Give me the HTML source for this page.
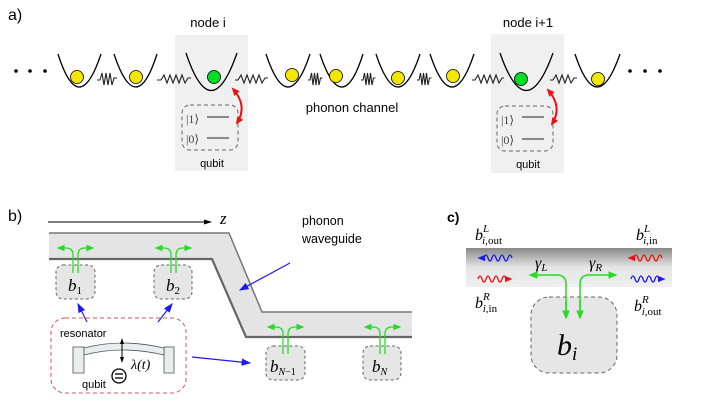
<!DOCTYPE html>
<html><head><meta charset="utf-8"><style>
body{margin:0;background:#fff}
svg{display:block}
.s{font-family:"Liberation Sans",sans-serif}
.m{font-family:"Liberation Serif",serif;font-style:italic}
.r{font-family:"Liberation Serif",serif}
</style></head><body>
<svg width="706" height="417" viewBox="0 0 706 417" xmlns="http://www.w3.org/2000/svg">
<defs>
<marker id="ag" markerWidth="6" markerHeight="6" refX="5" refY="3" orient="auto"><path d="M0,0.5 L6,3 L0,5.5z" fill="#22dd22"/></marker>
<marker id="ab" markerWidth="8" markerHeight="8" refX="7" refY="4" orient="auto"><path d="M0,1 L8,4 L0,7z" fill="#1a1aee"/></marker>
<marker id="ar" markerUnits="userSpaceOnUse" markerWidth="8" markerHeight="8" refX="6" refY="4" orient="auto-start-reverse"><path d="M0,0.5 L8,4 L0,7.5z" fill="#ee1111"/></marker>
<marker id="ak" markerWidth="8" markerHeight="8" refX="7" refY="4" orient="auto"><path d="M0,1.5 L8,4 L0,6.5z" fill="#000"/></marker>
<marker id="ak2" markerWidth="6" markerHeight="6" refX="3" refY="3" orient="auto-start-reverse"><path d="M0,1 L6,3 L0,5z" fill="#000"/></marker>
<marker id="bl" markerWidth="6" markerHeight="6" refX="4" refY="3" orient="auto"><path d="M0,0.5 L6,3 L0,5.5z" fill="#1a1aee"/></marker>
<marker id="rd" markerWidth="6" markerHeight="6" refX="4" refY="3" orient="auto"><path d="M0,0.5 L6,3 L0,5.5z" fill="#ee1111"/></marker>
<linearGradient id="gb" x1="0" y1="0" x2="0" y2="1"><stop offset="0" stop-color="#888"/><stop offset="0.5" stop-color="#e6e6e6"/><stop offset="1" stop-color="#eee"/></linearGradient>
</defs>
<!-- a -->
<text x="8" y="20" class="s" font-size="16">a)</text>
<rect x="175" y="35" width="73" height="136" fill="#f0f0f0"/>
<rect x="491" y="34" width="73" height="139" fill="#f0f0f0"/>
<text x="208" y="27" class="s" font-size="13" text-anchor="middle">node i</text>
<text x="528" y="27" class="s" font-size="13" text-anchor="middle">node i+1</text>
<g fill="#000"><circle cx="16" cy="71" r="1.8"/><circle cx="30" cy="71" r="1.8"/><circle cx="45" cy="71" r="1.8"/><circle cx="630" cy="71" r="1.8"/><circle cx="645" cy="71" r="1.8"/><circle cx="660" cy="71" r="1.8"/></g>
<g fill="none" stroke="#000" stroke-width="1.3">
<path d="M58,54 Q79,120 101,54"/>
<path d="M114,54 Q136,120 157,54"/>
<path d="M186,53 Q211,128 237,53"/>
<path d="M266,54 Q288,120 310,54"/>
<path d="M320,54 Q342,120 363,54"/>
<path d="M376,54 Q398,120 420,54"/>
<path d="M430,54 Q452,120 474,54"/>
<path d="M500,53 Q526,128 553,53"/>
<path d="M575,54 Q597,120 620,54"/>
</g>
<g fill="none" stroke="#222" stroke-width="1.1">
<path d="M97,80 l3,0 l2,-7 l2,12 l2,-12 l2,12 l2,-12 l2,12 l2,-7 l3,0"/>
<path d="M157,80 l4,0 l3,-5 l3,8 l3,-8 l3,8 l3,-8 l3,8 l3,-8 l3,8 l3,-5 l3,0"/>
<path d="M235,80 l3,0 l3,-5 l3,8 l3,-8 l3,8 l3,-8 l3,8 l3,-8 l3,8 l3,-5 l3,0"/>
<path d="M308,80 l2,0 l1.5,-7 l1.5,12 l1.5,-12 l1.5,12 l1.5,-12 l1.5,12 l1.5,-7 l2,0"/>
<path d="M361,80 l2,0 l1.5,-7 l1.5,12 l1.5,-12 l1.5,12 l1.5,-12 l1.5,12 l1.5,-7 l2,0"/>
<path d="M417,80 l2,0 l1.5,-7 l1.5,12 l1.5,-12 l1.5,12 l1.5,-12 l1.5,12 l1.5,-7 l2,0"/>
<path d="M472,80 l3,0 l3,-5 l3,8 l3,-8 l3,8 l3,-8 l3,8 l3,-8 l3,8 l3,-5 l2,0"/>
<path d="M550,80 l3,0 l3,-5 l3,8 l3,-8 l3,8 l3,-8 l3,8 l3,-5 l3,0"/>
</g>
<g stroke="#000" stroke-width="0.8">
<circle cx="77" cy="77" r="6.5" fill="#f5e600"/><circle cx="136" cy="77" r="6.5" fill="#f5e600"/>
<circle cx="214" cy="77" r="6.5" fill="#00dd22"/><circle cx="292" cy="75" r="6.5" fill="#f5e600"/>
<circle cx="336" cy="76" r="6.5" fill="#f5e600"/><circle cx="398" cy="78" r="6.5" fill="#f5e600"/>
<circle cx="453" cy="76" r="6.5" fill="#f5e600"/><circle cx="521" cy="79" r="6.5" fill="#00dd22"/>
<circle cx="598" cy="79" r="6.5" fill="#f5e600"/>
</g>
<text x="352" y="112" class="s" font-size="13" text-anchor="middle">phonon channel</text>
<g>
<rect x="182" y="105" width="56" height="45" rx="8" fill="none" stroke="#666" stroke-dasharray="4,3"/>
<text x="186" y="123" class="r" font-size="12" fill="#444">|1⟩</text><line x1="207" y1="117" x2="229" y2="117" stroke="#222"/>
<text x="186" y="143" class="r" font-size="12" fill="#444">|0⟩</text><line x1="207" y1="138" x2="229" y2="138" stroke="#222"/>
<text x="212" y="167" class="s" font-size="11" text-anchor="middle">qubit</text>
<path d="M233,89 Q248,106 237,123" fill="none" stroke="#ee1111" stroke-width="2" marker-start="url(#ar)" marker-end="url(#ar)"/>
</g>
<g>
<rect x="497" y="106" width="56" height="45" rx="8" fill="none" stroke="#666" stroke-dasharray="4,3"/>
<text x="501" y="124" class="r" font-size="12" fill="#444">|1⟩</text><line x1="522" y1="117" x2="544" y2="117" stroke="#222"/>
<text x="501" y="144" class="r" font-size="12" fill="#444">|0⟩</text><line x1="522" y1="139" x2="544" y2="139" stroke="#222"/>
<text x="528" y="168" class="s" font-size="11" text-anchor="middle">qubit</text>
<path d="M548,90 Q563,107 552,124" fill="none" stroke="#ee1111" stroke-width="2" marker-start="url(#ar)" marker-end="url(#ar)"/>
</g>
<!-- b -->
<text x="8" y="221" class="s" font-size="16">b)</text>
<line x1="48" y1="222" x2="211" y2="222" stroke="#000" marker-end="url(#ak)"/>
<text x="220" y="224" class="m" font-size="17">z</text>
<path d="M49,233 L229,233 L262,312 L412,312 L412,337 L246,337 L212,259 L49,259z" fill="#e4e4e4"/>
<path d="M49,233 L229,233 L262,312 L412,312" fill="none" stroke="#777" stroke-width="1.5"/>
<path d="M49,259 L212,259 L246,337 L412,337" fill="none" stroke="#666" stroke-width="2.2"/>
<g fill="#e6e6e6" stroke="#666" stroke-dasharray="3,2.5">
<rect x="56" y="265" width="39" height="34" rx="7"/><rect x="154" y="265" width="38" height="34" rx="7"/>
<rect x="266" y="346" width="39" height="34" rx="7"/><rect x="363" y="346" width="38" height="34" rx="7"/>
</g>
<text x="68" y="291" class="m" font-size="17">b<tspan font-size="11" font-style="normal" dy="3">1</tspan></text>
<text x="166" y="291" class="m" font-size="17">b<tspan font-size="11" font-style="normal" dy="3">2</tspan></text>
<text x="270" y="372" class="m" font-size="17">b<tspan font-size="10" dy="3">N</tspan><tspan font-size="10" font-style="normal">−1</tspan></text>
<text x="372" y="372" class="m" font-size="17">b<tspan font-size="10" dy="3">N</tspan></text>
<g fill="none" stroke="#22dd22" stroke-width="1.3">
<path d="M73,273 L73,255 Q73,248 66,248 L58,248" marker-end="url(#ag)"/><path d="M78,273 L78,255 Q78,248 85,248 L93,248" marker-end="url(#ag)"/>
<path d="M171,273 L171,255 Q171,248 164,248 L156,248" marker-end="url(#ag)"/><path d="M176,273 L176,255 Q176,248 183,248 L191,248" marker-end="url(#ag)"/>
<path d="M283,354 L283,334 Q283,327 276,327 L268,327" marker-end="url(#ag)"/><path d="M288,354 L288,334 Q288,327 295,327 L303,327" marker-end="url(#ag)"/>
<path d="M380,354 L380,334 Q380,327 373,327 L365,327" marker-end="url(#ag)"/><path d="M385,354 L385,334 Q385,327 392,327 L400,327" marker-end="url(#ag)"/>
</g>
<text x="302" y="225" class="s" font-size="12.5">phonon</text>
<text x="302" y="243" class="s" font-size="12.5">waveguide</text>
<g stroke="#1a1aee" stroke-width="1.2"><line x1="290" y1="263" x2="240" y2="290" marker-end="url(#ab)"/>
<line x1="87" y1="322" x2="78" y2="304" marker-end="url(#ab)"/><line x1="158" y1="322" x2="172" y2="304" marker-end="url(#ab)"/>
<line x1="192" y1="357" x2="250" y2="363" marker-end="url(#ab)"/></g>
<rect x="51" y="318" width="135" height="75" rx="14" fill="none" stroke="#e05060" stroke-dasharray="4,3"/>
<text x="60" y="337" class="s" font-size="11">resonator</text>
<rect x="73" y="347" width="11" height="26" fill="#e8eeee" stroke="#555" stroke-width="0.8"/>
<rect x="164" y="347" width="10" height="26" fill="#e8eeee" stroke="#555" stroke-width="0.8"/>
<path d="M84,348 Q122,338 164,348 L164,355 Q122,345 84,355z" fill="#e8eeee" stroke="#555" stroke-width="0.8"/>
<line x1="122" y1="341" x2="122" y2="360" stroke="#000" marker-start="url(#ak2)" marker-end="url(#ak2)"/>
<circle cx="119" cy="376" r="7" fill="#fff" stroke="#000" stroke-width="1.3"/>
<line x1="115" y1="374" x2="123" y2="374" stroke="#000" stroke-width="1.3"/><line x1="115" y1="378" x2="123" y2="378" stroke="#000" stroke-width="1.3"/>
<text x="131" y="369" class="m" font-size="14">λ(<tspan>t</tspan>)</text>
<text x="82" y="388" class="s" font-size="11">qubit</text>
<!-- c -->
<text x="447" y="222" class="s" font-size="14" font-weight="bold">c)</text>
<rect x="466" y="248" width="206" height="39" fill="url(#gb)"/>
<text x="475" y="240" class="m" font-size="16">b<tspan font-size="11" dy="-8">L</tspan><tspan font-size="11" dx="-7" dy="12">i,</tspan><tspan font-size="11" font-style="normal">out</tspan></text>
<text x="636" y="240" class="m" font-size="16">b<tspan font-size="11" dy="-8">L</tspan><tspan font-size="11" dx="-7" dy="12">i,</tspan><tspan font-size="11" font-style="normal">in</tspan></text>
<text x="475" y="308" class="m" font-size="16">b<tspan font-size="11" dy="-8">R</tspan><tspan font-size="11" dx="-7" dy="12">i,</tspan><tspan font-size="11" font-style="normal">in</tspan></text>
<text x="634" y="311" class="m" font-size="16">b<tspan font-size="11" dy="-8">R</tspan><tspan font-size="11" dx="-7" dy="12">i,</tspan><tspan font-size="11" font-style="normal">out</tspan></text>
<g fill="none" stroke-width="1.3">
<path d="M512,258 q-2,-6 -4,0 t-4,0 t-4,0 t-4,0 t-4,0 t-4,0 t-4,0 l-4,0" stroke="#1a1aee" marker-end="url(#bl)"/>
<path d="M478,279 q2,-6 4,0 t4,0 t4,0 t4,0 t4,0 t4,0 t4,0 l4,0" stroke="#ee1111" marker-end="url(#rd)"/>
<path d="M662,258 q-2,-6 -4,0 t-4,0 t-4,0 t-4,0 t-4,0 t-4,0 t-4,0 l-4,0" stroke="#ee1111" marker-end="url(#rd)"/>
<path d="M631,279 q2,-6 4,0 t4,0 t4,0 t4,0 t4,0 t4,0 t4,0 l4,0" stroke="#1a1aee" marker-end="url(#bl)"/>
</g>
<text x="535" y="268" class="m" font-size="16">γ<tspan font-size="11" dy="3">L</tspan></text>
<text x="589" y="268" class="m" font-size="16">γ<tspan font-size="11" dy="3">R</tspan></text>
<rect x="531" y="297" width="86" height="76" rx="18" fill="#e6e6e6" stroke="#666" stroke-dasharray="4,3"/>
<g fill="none" stroke="#22dd22" stroke-width="1.5">
<path d="M566,318 L566,284 Q566,275 557,275 L530,275" marker-end="url(#ag)"/>
<path d="M580,318 L580,284 Q580,275 589,275 L616,275" marker-end="url(#ag)"/>
<path d="M566,300 L566,318" marker-end="url(#ag)"/><path d="M580,300 L580,318" marker-end="url(#ag)"/>
</g>
<text x="557" y="355" class="m" font-size="30">b<tspan font-size="19" dy="5">i</tspan></text>
</svg>
</body></html>
